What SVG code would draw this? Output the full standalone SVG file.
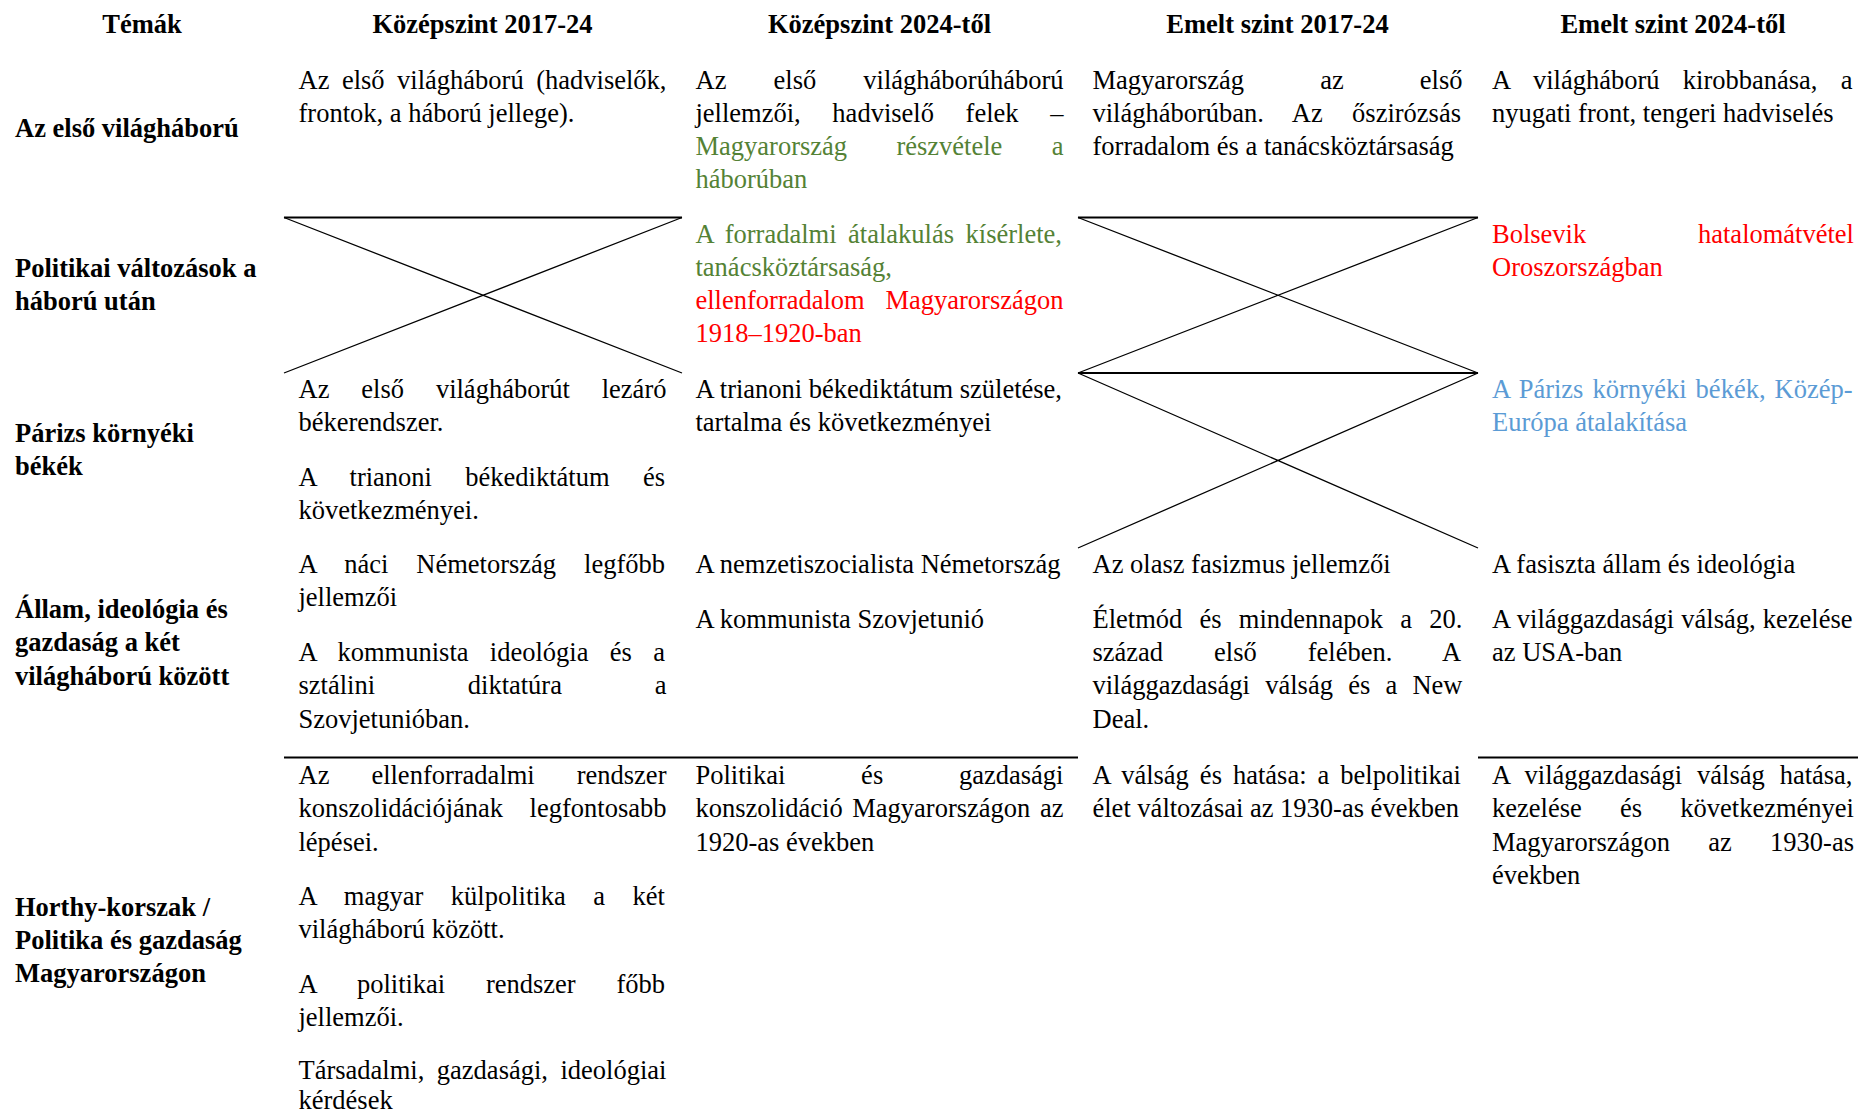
<svg xmlns="http://www.w3.org/2000/svg" width="1858" height="1115" viewBox="0 0 1858 1115">
<style>
text{font-family:"Liberation Serif","Times New Roman",serif;font-size:26.5px;fill:#000}
.b{font-weight:bold}
.m{text-anchor:middle}
.e{text-anchor:end}
.g{fill:#548235}
.r{fill:#ff0000}
.bl{fill:#5b9bd5}
.thick{stroke:#000;stroke-width:2;fill:none}
.thin{stroke:#000;stroke-width:1.3;fill:none}
</style>
<rect width="1858" height="1115" fill="#fff"/>
<g id="texts" transform="translate(0,1.2)">
<g id="header">
<text class="b m" x="142" y="32">Témák</text>
<text class="b m" x="482.5" y="32">Középszint 2017-24</text>
<text class="b m" x="879.5" y="32">Középszint 2024-től</text>
<text class="b m" x="1277.5" y="32">Emelt szint 2017-24</text>
<text class="b m" x="1673" y="32">Emelt szint 2024-től</text>
</g>
<g id="labels">
<text class="b" x="15" y="136">Az első világháború</text>
<text class="b" x="15" y="276">Politikai változások a</text>
<text class="b" x="15" y="309">háború után</text>
<text class="b" x="15" y="440.5">Párizs környéki</text>
<text class="b" x="15" y="473.7">békék</text>
<text class="b" x="15" y="617">Állam, ideológia és</text>
<text class="b" x="15" y="650.3">gazdaság a két</text>
<text class="b" x="15" y="683.5">világháború között</text>
<text class="b" x="15" y="914.5">Horthy-korszak /</text>
<text class="b" x="15" y="947.7">Politika és gazdaság</text>
<text class="b" x="15" y="981">Magyarországon</text>
</g>
<g id="row1">
<text x="298.5" y="87.4" word-spacing="5.89">Az első világháború (hadviselők,</text>
<text x="298.5" y="120.6">frontok, a háború jellege).</text>
<text x="695.5" y="87.4" word-spacing="40.49">Az első világháborúháború</text>
<text x="695.5" y="120.6" word-spacing="25.02">jellemzői, hadviselő felek –</text>
<text class="g" x="695.5" y="153.8" word-spacing="42.73">Magyarország részvétele a</text>
<text class="g" x="695.5" y="187">háborúban</text>
<text x="1092.5" y="87.4" word-spacing="69.47">Magyarország az első</text>
<text x="1092.5" y="120.6" word-spacing="22.72">világháborúban. Az őszirózsás</text>
<text x="1092.5" y="153.8">forradalom és a tanácsköztársaság</text>
<text x="1492" y="87.4" word-spacing="16.66">A világháború kirobbanása, a</text>
<text x="1492" y="120.6">nyugati front, tengeri hadviselés</text>
</g>
<g id="row2">
<text class="g" x="695.5" y="241.4" word-spacing="4.92">A forradalmi átalakulás kísérlete,</text>
<text class="g" x="695.5" y="274.6">tanácsköztársaság,</text>
<text class="r" x="695.5" y="307.8">ellenforradalom</text>
<text class="r e" x="1063.5" y="307.8">Magyarországon</text>
<text class="r" x="695.5" y="341">1918–1920-ban</text>
<text class="r" x="1492" y="241.4">Bolsevik</text>
<text class="r e" x="1854" y="241.4">hatalomátvétel</text>
<text class="r" x="1492" y="274.6">Oroszországban</text>
</g>
<g id="row3">
<text x="298.5" y="396.7" word-spacing="25.28">Az első világháborút lezáró</text>
<text x="298.5" y="429.9">békerendszer.</text>
<text x="298.5" y="485" word-spacing="26.73">A trianoni békediktátum és</text>
<text x="298.5" y="518.2">következményei.</text>
<text x="695.5" y="396.7">A trianoni békediktátum születése,</text>
<text x="695.5" y="429.9">tartalma és következményei</text>
<text class="bl" x="1492" y="396.7" word-spacing="2.37">A Párizs környéki békék, Közép-</text>
<text class="bl" x="1492" y="429.9">Európa átalakítása</text>
</g>
<g id="row4">
<text x="298.5" y="572" word-spacing="21.36">A náci Németország legfőbb</text>
<text x="298.5" y="605.2">jellemzői</text>
<text x="298.5" y="660" word-spacing="14.71">A kommunista ideológia és a</text>
<text x="298.5" y="693.2" word-spacing="86.11">sztálini diktatúra a</text>
<text x="298.5" y="726.4">Szovjetunióban.</text>
<text x="695.5" y="572">A nemzetiszocialista Németország</text>
<text x="695.5" y="626.8">A kommunista Szovjetunió</text>
<text x="1092.5" y="572">Az olasz fasizmus jellemzői</text>
<text x="1092.5" y="626.8" word-spacing="10.61">Életmód és mindennapok a 20.</text>
<text x="1092.5" y="660" word-spacing="44.36">század első felében. A</text>
<text x="1092.5" y="693.2" word-spacing="8.61">világgazdasági válság és a New</text>
<text x="1092.5" y="726.4">Deal.</text>
<text x="1492" y="572">A fasiszta állam és ideológia</text>
<text x="1492" y="626.8" word-spacing="0.47">A világgazdasági válság, kezelése</text>
<text x="1492" y="660">az USA-ban</text>
</g>
<g id="row5">
<text x="298.5" y="783" word-spacing="35.36">Az ellenforradalmi rendszer</text>
<text x="298.5" y="816.2">konszolidációjának</text>
<text class="e" x="666.5" y="816.2">legfontosabb</text>
<text x="298.5" y="849.4">lépései.</text>
<text x="298.5" y="903.9" word-spacing="20.97">A magyar külpolitika a két</text>
<text x="298.5" y="937.1">világháború között.</text>
<text x="298.5" y="991.6" word-spacing="34.10">A politikai rendszer főbb</text>
<text x="298.5" y="1024.8">jellemzői.</text>
<text x="298.5" y="1078.3" word-spacing="5.9">Társadalmi, gazdasági, ideológiai</text>
<text x="298.5" y="1107.8">kérdések</text>
<text x="695.5" y="783" word-spacing="69.18">Politikai és gazdasági</text>
<text x="695.5" y="816.2" word-spacing="2.97">konszolidáció Magyarországon az</text>
<text x="695.5" y="849.4">1920-as években</text>
<text x="1092.5" y="783" word-spacing="4.37">A válság és hatása: a belpolitikai</text>
<text x="1092.5" y="816.2">élet változásai az 1930-as években</text>
<text x="1492" y="783" word-spacing="8.31">A világgazdasági válság hatása,</text>
<text x="1492" y="816.2" word-spacing="31.62">kezelése és következményei</text>
<text x="1492" y="849.4" word-spacing="31.62">Magyarországon az 1930-as</text>
<text x="1492" y="882.6">években</text>
</g>
</g>
<g id="lines">
<path class="thick" d="M284 217.5H682M1078 217.5H1478M1078 373H1478M284 757.5H1078M1478 757.5H1858"/>
<path class="thin" d="M284 217.5L682 373M284 373L682 217.5M1078 217.5L1478 373M1078 373L1478 217.5M1078 373L1478 548M1078 548L1478 373"/>
</g>
</svg>
